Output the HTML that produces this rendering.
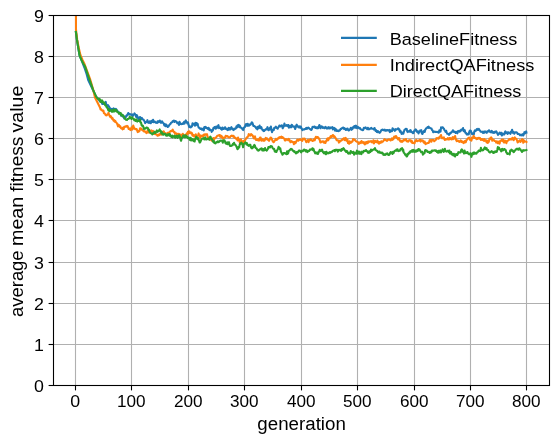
<!DOCTYPE html>
<html><head><meta charset="utf-8"><title>chart</title>
<style>html,body{margin:0;padding:0;background:#fff;overflow:hidden;}svg{display:block;position:absolute;left:0;top:0;}</style>
</head><body>
<svg width="559" height="443" viewBox="0 0 559 443">
<rect x="0" y="0" width="559" height="443" fill="#ffffff"/>
<defs><clipPath id="ax"><rect x="53.50" y="15.50" width="496.00" height="370.00"/></clipPath></defs>
<g stroke="#b0b0b0" stroke-width="1.1" fill="none">
<path d="M75.50,15.50 V385.50"/>
<path d="M131.50,15.50 V385.50"/>
<path d="M188.50,15.50 V385.50"/>
<path d="M244.50,15.50 V385.50"/>
<path d="M301.50,15.50 V385.50"/>
<path d="M357.50,15.50 V385.50"/>
<path d="M414.50,15.50 V385.50"/>
<path d="M470.50,15.50 V385.50"/>
<path d="M526.50,15.50 V385.50"/>
<path d="M53.50,385.50 H549.50"/>
<path d="M53.50,344.50 H549.50"/>
<path d="M53.50,303.50 H549.50"/>
<path d="M53.50,262.50 H549.50"/>
<path d="M53.50,220.50 H549.50"/>
<path d="M53.50,179.50 H549.50"/>
<path d="M53.50,138.50 H549.50"/>
<path d="M53.50,97.50 H549.50"/>
<path d="M53.50,56.50 H549.50"/>
<path d="M53.50,15.50 H549.50"/>
</g>
<g clip-path="url(#ax)" fill="none" stroke-width="2.1" stroke-linejoin="round" stroke-linecap="square">
<path d="M75.90,32.00 L77.00,40.00 L78.30,48.00 L79.60,55.50 L81.60,60.30 L84.40,67.50 L86.60,74.00 L88.20,80.00 L90.60,85.00 L93.00,90.00 L95.90,96.50 L98.40,99.30 L98.96,99.73 L99.53,100.92 L100.09,100.99 L100.65,101.54 L101.22,101.68 L101.78,102.81 L102.35,103.93 L102.91,103.42 L103.47,103.88 L104.04,103.29 L104.60,103.40 L105.16,103.24 L105.73,101.89 L106.29,104.58 L106.85,105.12 L107.42,105.91 L107.98,105.07 L108.54,105.83 L109.11,107.02 L109.67,107.68 L110.24,108.61 L110.80,108.69 L111.36,109.46 L111.93,108.91 L112.49,109.46 L113.05,109.36 L113.62,108.41 L114.18,110.03 L114.74,108.99 L115.31,109.73 L115.87,108.96 L116.44,109.47 L117.00,110.37 L117.56,111.14 L118.13,112.30 L118.69,112.58 L119.25,112.62 L119.82,112.80 L120.38,113.69 L120.94,115.56 L121.51,114.57 L122.07,115.83 L122.63,116.44 L123.20,115.48 L123.76,117.11 L124.33,118.53 L124.89,116.51 L125.45,117.42 L126.02,116.73 L126.58,115.34 L127.14,115.47 L127.71,114.30 L128.27,112.98 L128.83,114.43 L129.40,114.04 L129.96,113.98 L130.53,114.71 L131.09,114.46 L131.65,114.84 L132.22,114.34 L132.78,116.04 L133.34,114.73 L133.91,114.47 L134.47,113.47 L135.03,114.21 L135.60,115.10 L136.16,117.03 L136.72,115.10 L137.29,116.10 L137.85,117.83 L138.42,119.08 L138.98,118.78 L139.54,117.27 L140.11,117.15 L140.67,119.65 L141.23,118.51 L141.80,117.87 L142.36,119.08 L142.92,119.51 L143.49,119.63 L144.05,120.53 L144.62,121.51 L145.18,123.08 L145.74,122.21 L146.31,122.00 L146.87,121.89 L147.43,120.16 L148.00,122.56 L148.56,122.75 L149.12,122.86 L149.69,121.41 L150.25,122.60 L150.81,123.24 L151.38,120.78 L151.94,121.53 L152.51,121.96 L153.07,119.74 L153.63,122.21 L154.20,121.73 L154.76,121.52 L155.32,122.19 L155.89,122.76 L156.45,122.52 L157.01,123.01 L157.58,121.39 L158.14,121.30 L158.71,122.12 L159.27,121.08 L159.83,120.55 L160.40,122.19 L160.96,122.85 L161.52,121.69 L162.09,121.27 L162.65,122.55 L163.21,123.10 L163.78,123.55 L164.34,125.39 L164.90,124.13 L165.47,126.14 L166.03,124.47 L166.60,125.06 L167.16,126.35 L167.72,126.95 L168.29,126.84 L168.85,125.75 L169.41,124.90 L169.98,124.21 L170.54,123.83 L171.10,122.65 L171.67,122.41 L172.23,122.05 L172.80,121.04 L173.36,121.03 L173.92,120.52 L174.49,122.03 L175.05,121.19 L175.61,121.06 L176.18,121.53 L176.74,122.16 L177.30,123.21 L177.87,122.61 L178.43,123.50 L178.99,124.93 L179.56,121.88 L180.12,122.96 L180.69,123.98 L181.25,124.10 L181.81,123.98 L182.38,123.48 L182.94,123.95 L183.50,123.11 L184.07,121.94 L184.63,123.59 L185.19,121.47 L185.76,120.38 L186.32,121.64 L186.89,122.46 L187.45,123.51 L188.01,122.36 L188.58,124.88 L189.14,126.84 L189.70,126.04 L190.27,127.25 L190.83,127.34 L191.39,126.60 L191.96,126.40 L192.52,123.33 L193.08,123.67 L193.65,123.83 L194.21,124.91 L194.78,125.61 L195.34,122.84 L195.90,125.31 L196.47,123.05 L197.03,124.37 L197.59,123.73 L198.16,125.97 L198.72,127.72 L199.28,127.71 L199.85,128.40 L200.41,128.95 L200.98,128.55 L201.54,128.46 L202.10,129.77 L202.67,129.50 L203.23,128.56 L203.79,130.41 L204.36,127.06 L204.92,128.18 L205.48,126.86 L206.05,127.26 L206.61,128.12 L207.17,128.19 L207.74,128.93 L208.30,127.73 L208.87,128.19 L209.43,130.22 L209.99,129.48 L210.56,129.87 L211.12,129.98 L211.68,131.88 L212.25,130.77 L212.81,130.58 L213.37,128.05 L213.94,128.14 L214.50,127.03 L215.07,128.22 L215.63,128.58 L216.19,126.48 L216.76,128.06 L217.32,127.39 L217.88,126.26 L218.45,125.09 L219.01,128.07 L219.57,127.38 L220.14,127.44 L220.70,128.63 L221.26,129.08 L221.83,129.70 L222.39,127.58 L222.96,128.96 L223.52,128.98 L224.08,128.72 L224.65,127.49 L225.21,127.36 L225.77,128.98 L226.34,128.59 L226.90,128.89 L227.46,130.14 L228.03,129.14 L228.59,127.89 L229.16,129.59 L229.72,128.19 L230.28,129.45 L230.85,128.34 L231.41,127.15 L231.97,128.17 L232.54,129.36 L233.10,129.36 L233.66,130.02 L234.23,128.53 L234.79,128.90 L235.35,128.78 L235.92,128.42 L236.48,126.36 L237.05,127.42 L237.61,125.24 L238.17,125.73 L238.74,124.96 L239.30,127.12 L239.86,125.80 L240.43,127.23 L240.99,127.61 L241.55,128.24 L242.12,128.33 L242.68,129.47 L243.25,130.07 L243.81,127.90 L244.37,127.41 L244.94,126.91 L245.50,125.16 L246.06,124.06 L246.63,124.58 L247.19,125.81 L247.75,123.77 L248.32,124.55 L248.88,125.71 L249.44,125.22 L250.01,124.30 L250.57,124.58 L251.14,123.77 L251.70,122.43 L252.26,122.54 L252.83,124.04 L253.39,126.01 L253.95,125.70 L254.52,126.24 L255.08,126.90 L255.64,126.90 L256.21,128.52 L256.77,128.29 L257.34,129.34 L257.90,126.73 L258.46,128.18 L259.03,126.89 L259.59,125.54 L260.15,128.13 L260.72,127.98 L261.28,127.11 L261.84,128.56 L262.41,129.86 L262.97,129.73 L263.53,131.08 L264.10,130.96 L264.66,130.34 L265.23,129.52 L265.79,129.71 L266.35,128.72 L266.92,128.82 L267.48,127.18 L268.04,129.68 L268.61,130.25 L269.17,128.89 L269.73,128.17 L270.30,129.38 L270.86,126.53 L271.43,129.44 L271.99,132.14 L272.55,129.92 L273.12,130.28 L273.68,130.32 L274.24,127.96 L274.81,127.61 L275.37,127.77 L275.93,126.71 L276.50,127.61 L277.06,128.19 L277.62,128.69 L278.19,127.49 L278.75,126.80 L279.32,125.62 L279.88,125.55 L280.44,126.45 L281.01,125.97 L281.57,125.36 L282.13,125.48 L282.70,128.22 L283.26,127.06 L283.82,126.35 L284.39,123.59 L284.95,125.67 L285.52,125.23 L286.08,125.79 L286.64,125.06 L287.21,125.26 L287.77,126.26 L288.33,124.98 L288.90,127.64 L289.46,126.89 L290.02,125.90 L290.59,127.20 L291.15,127.35 L291.71,124.72 L292.28,125.42 L292.84,126.47 L293.41,126.71 L293.97,126.60 L294.53,126.50 L295.10,128.99 L295.66,127.62 L296.22,125.38 L296.79,124.70 L297.35,126.43 L297.91,126.14 L298.48,127.31 L299.04,127.09 L299.61,126.37 L300.17,127.76 L300.73,126.47 L301.30,128.05 L301.86,129.09 L302.42,130.04 L302.99,129.34 L303.55,129.44 L304.11,129.53 L304.68,129.12 L305.24,128.96 L305.80,128.36 L306.37,127.96 L306.93,128.79 L307.50,128.24 L308.06,127.58 L308.62,127.73 L309.19,128.48 L309.75,128.80 L310.31,129.41 L310.88,129.70 L311.44,129.89 L312.00,128.69 L312.57,126.88 L313.13,127.17 L313.70,126.67 L314.26,126.59 L314.82,126.83 L315.39,128.00 L315.95,127.64 L316.51,127.25 L317.08,128.38 L317.64,127.31 L318.20,128.22 L318.77,126.52 L319.33,125.03 L319.89,126.20 L320.46,128.27 L321.02,126.91 L321.59,126.28 L322.15,126.84 L322.71,127.87 L323.28,127.74 L323.84,127.39 L324.40,128.26 L324.97,127.57 L325.53,126.92 L326.09,127.51 L326.66,128.53 L327.22,128.25 L327.79,128.51 L328.35,127.16 L328.91,128.08 L329.48,128.45 L330.04,127.39 L330.60,128.12 L331.17,127.47 L331.73,127.72 L332.29,127.12 L332.86,129.42 L333.42,128.68 L333.98,127.82 L334.55,128.31 L335.11,130.67 L335.68,128.95 L336.24,130.35 L336.80,130.92 L337.37,130.67 L337.93,130.28 L338.49,131.06 L339.06,130.64 L339.62,130.67 L340.18,129.87 L340.75,128.75 L341.31,128.84 L341.88,128.38 L342.44,127.91 L343.00,127.58 L343.57,127.77 L344.13,129.00 L344.69,128.24 L345.26,129.10 L345.82,130.00 L346.38,128.90 L346.95,129.67 L347.51,128.49 L348.07,129.49 L348.64,130.43 L349.20,130.19 L349.77,129.40 L350.33,128.94 L350.89,127.72 L351.46,129.83 L352.02,128.55 L352.58,128.79 L353.15,127.11 L353.71,127.44 L354.27,126.02 L354.84,127.78 L355.40,127.70 L355.97,125.64 L356.53,127.37 L357.09,128.23 L357.66,126.78 L358.22,127.08 L358.78,127.99 L359.35,128.43 L359.91,127.96 L360.47,129.15 L361.04,129.42 L361.60,129.82 L362.16,129.84 L362.73,130.27 L363.29,129.83 L363.86,127.80 L364.42,128.23 L364.98,127.63 L365.55,127.44 L366.11,128.30 L366.67,128.58 L367.24,129.16 L367.80,127.82 L368.36,128.30 L368.93,129.33 L369.49,128.98 L370.06,128.68 L370.62,128.65 L371.18,127.91 L371.75,128.79 L372.31,128.75 L372.87,128.81 L373.44,128.76 L374.00,129.52 L374.56,128.01 L375.13,129.74 L375.69,130.93 L376.25,130.21 L376.82,131.91 L377.38,132.12 L377.95,131.13 L378.51,132.13 L379.07,132.25 L379.64,132.80 L380.20,132.34 L380.76,131.27 L381.33,130.08 L381.89,130.02 L382.45,129.50 L383.02,130.21 L383.58,130.22 L384.15,129.81 L384.71,129.68 L385.27,130.76 L385.84,130.67 L386.40,130.10 L386.96,130.56 L387.53,129.98 L388.09,130.14 L388.65,130.49 L389.22,129.91 L389.78,132.09 L390.34,130.23 L390.91,131.42 L391.47,130.75 L392.04,131.19 L392.60,128.27 L393.16,129.18 L393.73,129.63 L394.29,129.72 L394.85,130.86 L395.42,129.19 L395.98,129.75 L396.54,129.21 L397.11,129.19 L397.67,128.70 L398.24,128.28 L398.80,129.62 L399.36,129.26 L399.93,131.79 L400.49,130.97 L401.05,132.32 L401.62,134.02 L402.18,132.55 L402.74,133.03 L403.31,133.67 L403.87,131.74 L404.43,130.03 L405.00,129.74 L405.56,128.90 L406.13,129.26 L406.69,128.85 L407.25,131.44 L407.82,132.07 L408.38,131.27 L408.94,131.32 L409.51,130.66 L410.07,131.91 L410.63,130.19 L411.20,131.90 L411.76,131.81 L412.33,132.44 L412.89,133.28 L413.45,133.07 L414.02,131.39 L414.58,130.22 L415.14,130.67 L415.71,129.37 L416.27,130.20 L416.83,131.68 L417.40,131.95 L417.96,131.27 L418.52,133.46 L419.09,131.48 L419.65,131.79 L420.22,130.45 L420.78,130.76 L421.34,130.18 L421.91,133.54 L422.47,133.92 L423.03,132.68 L423.60,131.95 L424.16,130.85 L424.72,131.93 L425.29,129.68 L425.85,128.96 L426.42,127.94 L426.98,127.98 L427.54,127.16 L428.11,127.89 L428.67,126.68 L429.23,127.61 L429.80,127.79 L430.36,128.18 L430.92,128.38 L431.49,128.60 L432.05,130.12 L432.61,130.35 L433.18,132.23 L433.74,131.98 L434.31,131.66 L434.87,131.74 L435.43,131.91 L436.00,131.75 L436.56,131.91 L437.12,132.11 L437.69,131.99 L438.25,131.75 L438.81,132.62 L439.38,130.23 L439.94,130.17 L440.51,131.56 L441.07,127.38 L441.63,127.69 L442.20,127.52 L442.76,127.26 L443.32,128.31 L443.89,128.68 L444.45,129.99 L445.01,130.61 L445.58,131.96 L446.14,130.76 L446.70,132.31 L447.27,133.78 L447.83,133.80 L448.40,134.12 L448.96,134.81 L449.52,133.29 L450.09,133.69 L450.65,133.21 L451.21,132.32 L451.78,132.15 L452.34,131.49 L452.90,130.31 L453.47,131.43 L454.03,132.02 L454.60,131.51 L455.16,132.06 L455.72,132.93 L456.29,131.94 L456.85,132.74 L457.41,133.31 L457.98,131.16 L458.54,131.34 L459.10,130.77 L459.67,131.76 L460.23,130.65 L460.79,130.88 L461.36,129.49 L461.92,129.80 L462.49,129.61 L463.05,128.09 L463.61,131.11 L464.18,131.40 L464.74,130.11 L465.30,132.67 L465.87,132.73 L466.43,133.95 L466.99,134.67 L467.56,133.89 L468.12,134.00 L468.69,134.42 L469.25,132.01 L469.81,130.82 L470.38,130.57 L470.94,131.12 L471.50,132.73 L472.07,134.18 L472.63,133.68 L473.19,133.98 L473.76,134.51 L474.32,131.48 L474.88,130.39 L475.45,130.91 L476.01,130.70 L476.58,129.30 L477.14,128.95 L477.70,129.82 L478.27,129.64 L478.83,128.93 L479.39,130.21 L479.96,130.41 L480.52,131.62 L481.08,131.64 L481.65,131.84 L482.21,131.63 L482.78,132.69 L483.34,132.94 L483.90,131.62 L484.47,132.53 L485.03,131.33 L485.59,131.87 L486.16,132.29 L486.72,132.77 L487.28,131.26 L487.85,131.40 L488.41,131.51 L488.97,130.24 L489.54,131.56 L490.10,131.24 L490.67,132.22 L491.23,131.28 L491.79,130.84 L492.36,132.55 L492.92,132.72 L493.48,131.99 L494.05,132.94 L494.61,131.94 L495.17,131.56 L495.74,132.30 L496.30,131.33 L496.87,132.56 L497.43,133.61 L497.99,134.83 L498.56,133.94 L499.12,133.76 L499.68,132.50 L500.25,132.91 L500.81,134.26 L501.37,132.82 L501.94,135.44 L502.50,133.51 L503.06,134.33 L503.63,134.25 L504.19,134.52 L504.76,132.45 L505.32,131.43 L505.88,133.09 L506.45,132.86 L507.01,132.37 L507.57,133.98 L508.14,132.27 L508.70,132.41 L509.26,133.03 L509.83,132.71 L510.39,133.79 L510.96,131.62 L511.52,132.14 L512.08,129.71 L512.65,132.78 L513.21,131.77 L513.77,132.62 L514.34,133.70 L514.90,132.32 L515.46,132.36 L516.03,132.42 L516.59,132.40 L517.15,132.80 L517.72,134.01 L518.28,133.83 L518.85,134.11 L519.41,134.19 L519.97,135.27 L520.54,135.07 L521.10,134.69 L521.66,135.40 L522.23,134.88 L522.79,134.23 L523.35,135.46 L523.92,133.98 L524.48,132.17 L525.05,133.41 L525.61,132.86 L526.17,131.43 L526.40,132.60" stroke="#1f77b4"/>
<path d="M75.95,5.00 L76.00,30.00 L77.20,40.00 L78.80,48.00 L80.40,55.00 L82.50,60.00 L84.50,64.00 L86.20,68.50 L90.00,78.80 L93.30,90.00 L95.00,97.50 L97.50,102.50 L100.00,107.50 L100.56,109.40 L101.13,109.13 L101.69,110.24 L102.25,110.41 L102.82,110.84 L103.38,110.54 L103.95,113.23 L104.51,113.33 L105.07,113.89 L105.64,115.17 L106.20,114.96 L106.76,115.30 L107.33,114.41 L107.89,114.55 L108.45,112.86 L109.02,114.31 L109.58,115.71 L110.14,116.78 L110.71,116.09 L111.27,116.85 L111.84,118.71 L112.40,117.85 L112.96,119.28 L113.53,120.63 L114.09,120.04 L114.65,121.57 L115.22,120.75 L115.78,122.08 L116.34,122.51 L116.91,123.30 L117.47,124.71 L118.04,126.30 L118.60,124.67 L119.16,125.38 L119.73,126.84 L120.29,126.26 L120.85,127.89 L121.42,128.40 L121.98,128.22 L122.54,129.29 L123.11,127.68 L123.67,128.95 L124.23,126.75 L124.80,126.92 L125.36,126.56 L125.93,126.21 L126.49,126.68 L127.05,125.94 L127.62,126.23 L128.18,127.59 L128.74,129.02 L129.31,128.49 L129.87,129.41 L130.43,130.06 L131.00,128.88 L131.56,127.26 L132.13,129.63 L132.69,128.97 L133.25,125.45 L133.82,127.37 L134.38,128.16 L134.94,129.03 L135.51,129.26 L136.07,129.01 L136.63,129.04 L137.20,130.63 L137.76,132.05 L138.32,131.17 L138.89,131.62 L139.45,131.07 L140.02,128.33 L140.58,128.28 L141.14,128.42 L141.71,129.79 L142.27,129.62 L142.83,130.18 L143.40,131.04 L143.96,131.41 L144.52,131.06 L145.09,131.67 L145.65,132.34 L146.22,132.77 L146.78,133.07 L147.34,131.07 L147.91,131.20 L148.47,129.52 L149.03,132.68 L149.60,130.58 L150.16,131.00 L150.72,131.63 L151.29,130.43 L151.85,132.00 L152.41,131.85 L152.98,130.82 L153.54,132.76 L154.11,133.78 L154.67,131.83 L155.23,134.18 L155.80,134.06 L156.36,134.55 L156.92,134.82 L157.49,135.76 L158.05,134.91 L158.61,135.49 L159.18,134.23 L159.74,134.79 L160.31,133.34 L160.87,133.56 L161.43,134.60 L162.00,133.31 L162.56,132.52 L163.12,131.44 L163.69,131.37 L164.25,132.39 L164.81,133.38 L165.38,133.42 L165.94,133.92 L166.50,133.69 L167.07,134.52 L167.63,132.99 L168.20,132.65 L168.76,133.51 L169.32,132.68 L169.89,131.95 L170.45,131.23 L171.01,130.96 L171.58,131.12 L172.14,130.41 L172.70,129.57 L173.27,131.47 L173.83,131.95 L174.40,131.73 L174.96,133.73 L175.52,133.19 L176.09,133.36 L176.65,134.42 L177.21,135.02 L177.78,133.72 L178.34,134.77 L178.90,133.95 L179.47,136.51 L180.03,134.57 L180.59,136.00 L181.16,134.79 L181.72,136.05 L182.29,137.27 L182.85,133.75 L183.41,135.24 L183.98,135.85 L184.54,135.32 L185.10,134.79 L185.67,136.82 L186.23,135.17 L186.79,133.26 L187.36,134.44 L187.92,131.82 L188.49,133.28 L189.05,131.30 L189.61,131.67 L190.18,133.21 L190.74,133.05 L191.30,132.62 L191.87,133.09 L192.43,135.60 L192.99,135.60 L193.56,134.77 L194.12,136.36 L194.68,136.43 L195.25,136.73 L195.81,134.33 L196.38,135.58 L196.94,136.26 L197.50,135.92 L198.07,135.81 L198.63,133.42 L199.19,135.61 L199.76,136.07 L200.32,137.83 L200.88,135.42 L201.45,135.98 L202.01,135.99 L202.58,136.35 L203.14,135.08 L203.70,136.01 L204.27,134.38 L204.83,135.01 L205.39,134.26 L205.96,134.61 L206.52,134.20 L207.08,134.35 L207.65,137.19 L208.21,137.42 L208.77,137.60 L209.34,138.65 L209.90,139.62 L210.47,138.53 L211.03,139.56 L211.59,140.43 L212.16,140.80 L212.72,139.88 L213.28,138.06 L213.85,140.07 L214.41,138.89 L214.97,138.16 L215.54,137.45 L216.10,137.50 L216.67,136.65 L217.23,135.86 L217.79,135.74 L218.36,135.52 L218.92,135.29 L219.48,135.10 L220.05,136.66 L220.61,135.42 L221.17,137.11 L221.74,136.08 L222.30,137.44 L222.86,138.59 L223.43,138.10 L223.99,137.53 L224.56,137.77 L225.12,137.50 L225.68,135.75 L226.25,136.24 L226.81,136.48 L227.37,136.06 L227.94,136.61 L228.50,137.23 L229.06,137.39 L229.63,137.47 L230.19,136.96 L230.76,136.03 L231.32,135.97 L231.88,135.51 L232.45,135.91 L233.01,136.46 L233.57,135.76 L234.14,137.25 L234.70,137.94 L235.26,137.53 L235.83,138.38 L236.39,138.92 L236.95,138.55 L237.52,140.38 L238.08,137.63 L238.65,140.19 L239.21,139.73 L239.77,142.60 L240.34,143.58 L240.90,139.39 L241.46,141.05 L242.03,141.23 L242.59,141.25 L243.15,142.52 L243.72,140.73 L244.28,142.13 L244.85,140.85 L245.41,139.67 L245.97,138.29 L246.54,138.44 L247.10,137.04 L247.66,137.00 L248.23,135.89 L248.79,134.02 L249.35,135.44 L249.92,135.38 L250.48,135.56 L251.04,134.10 L251.61,134.50 L252.17,135.22 L252.74,135.61 L253.30,137.17 L253.86,138.44 L254.43,136.71 L254.99,136.39 L255.55,138.91 L256.12,139.86 L256.68,139.84 L257.24,140.11 L257.81,139.25 L258.37,139.40 L258.94,140.63 L259.50,138.72 L260.06,137.48 L260.63,137.53 L261.19,140.56 L261.75,140.70 L262.32,139.30 L262.88,139.83 L263.44,140.68 L264.01,139.49 L264.57,140.58 L265.13,139.08 L265.70,137.87 L266.26,139.21 L266.83,138.27 L267.39,139.41 L267.95,139.78 L268.52,140.10 L269.08,140.80 L269.64,139.57 L270.21,138.24 L270.77,137.50 L271.33,138.05 L271.90,139.29 L272.46,140.71 L273.03,141.62 L273.59,142.23 L274.15,141.55 L274.72,140.51 L275.28,140.21 L275.84,138.80 L276.41,139.87 L276.97,139.79 L277.53,139.26 L278.10,138.21 L278.66,137.61 L279.22,138.08 L279.79,137.10 L280.35,137.35 L280.92,136.94 L281.48,136.64 L282.04,138.02 L282.61,137.18 L283.17,137.90 L283.73,138.13 L284.30,138.70 L284.86,140.48 L285.42,140.52 L285.99,139.11 L286.55,139.41 L287.12,139.76 L287.68,139.55 L288.24,140.28 L288.81,138.87 L289.37,139.78 L289.93,141.04 L290.50,142.22 L291.06,141.60 L291.62,141.22 L292.19,141.95 L292.75,142.06 L293.31,142.26 L293.88,144.25 L294.44,142.09 L295.01,142.01 L295.57,143.05 L296.13,141.76 L296.70,140.71 L297.26,139.65 L297.82,140.07 L298.39,140.64 L298.95,139.54 L299.51,139.81 L300.08,139.23 L300.64,139.83 L301.21,139.59 L301.77,140.35 L302.33,140.85 L302.90,138.51 L303.46,139.24 L304.02,139.18 L304.59,138.56 L305.15,139.32 L305.71,140.70 L306.28,142.18 L306.84,141.71 L307.40,141.36 L307.97,139.74 L308.53,142.13 L309.10,140.53 L309.66,140.24 L310.22,139.28 L310.79,140.19 L311.35,139.52 L311.91,140.50 L312.48,140.91 L313.04,140.69 L313.60,140.51 L314.17,139.09 L314.73,140.24 L315.30,138.11 L315.86,136.80 L316.42,137.89 L316.99,137.32 L317.55,137.00 L318.11,137.35 L318.68,138.64 L319.24,138.50 L319.80,140.26 L320.37,142.40 L320.93,142.36 L321.49,141.60 L322.06,141.67 L322.62,141.35 L323.19,141.27 L323.75,142.57 L324.31,142.69 L324.88,141.70 L325.44,143.02 L326.00,141.11 L326.57,141.00 L327.13,138.79 L327.69,138.37 L328.26,140.25 L328.82,138.19 L329.39,138.48 L329.95,137.78 L330.51,136.35 L331.08,136.04 L331.64,137.02 L332.20,135.84 L332.77,134.98 L333.33,135.34 L333.89,137.03 L334.46,136.37 L335.02,137.06 L335.58,137.96 L336.15,139.11 L336.71,140.17 L337.28,140.18 L337.84,140.22 L338.40,140.95 L338.97,142.59 L339.53,142.09 L340.09,140.57 L340.66,140.92 L341.22,140.58 L341.78,140.18 L342.35,139.57 L342.91,138.76 L343.48,139.16 L344.04,138.21 L344.60,140.09 L345.17,139.39 L345.73,137.93 L346.29,140.58 L346.86,140.90 L347.42,139.50 L347.98,143.01 L348.55,142.60 L349.11,143.70 L349.67,141.39 L350.24,142.87 L350.80,142.82 L351.37,142.09 L351.93,141.50 L352.49,141.60 L353.06,139.12 L353.62,139.27 L354.18,139.29 L354.75,140.05 L355.31,140.15 L355.87,141.12 L356.44,141.50 L357.00,141.77 L357.57,141.70 L358.13,142.33 L358.69,143.83 L359.26,143.49 L359.82,142.65 L360.38,141.99 L360.95,143.05 L361.51,141.09 L362.07,141.92 L362.64,142.74 L363.20,142.12 L363.76,143.38 L364.33,142.36 L364.89,144.40 L365.46,143.73 L366.02,142.05 L366.58,143.39 L367.15,141.88 L367.71,143.16 L368.27,141.37 L368.84,141.62 L369.40,141.82 L369.96,141.23 L370.53,141.54 L371.09,141.05 L371.66,142.20 L372.22,141.94 L372.78,142.33 L373.35,140.35 L373.91,143.43 L374.47,142.35 L375.04,140.76 L375.60,141.94 L376.16,141.99 L376.73,142.21 L377.29,140.59 L377.85,142.76 L378.42,141.68 L378.98,143.79 L379.55,142.08 L380.11,142.90 L380.67,142.32 L381.24,141.23 L381.80,142.32 L382.36,141.62 L382.93,141.53 L383.49,140.80 L384.05,139.84 L384.62,139.13 L385.18,140.00 L385.75,140.09 L386.31,140.08 L386.87,140.85 L387.44,140.38 L388.00,139.65 L388.56,139.70 L389.13,139.33 L389.69,139.68 L390.25,140.17 L390.82,140.41 L391.38,139.27 L391.94,138.23 L392.51,139.86 L393.07,138.31 L393.64,138.81 L394.20,136.52 L394.76,137.28 L395.33,137.32 L395.89,135.99 L396.45,136.63 L397.02,137.99 L397.58,138.68 L398.14,139.50 L398.71,138.08 L399.27,138.33 L399.84,140.47 L400.40,141.49 L400.96,141.63 L401.53,140.74 L402.09,141.85 L402.65,141.40 L403.22,140.77 L403.78,139.53 L404.34,139.67 L404.91,140.30 L405.47,139.64 L406.03,139.02 L406.60,140.99 L407.16,141.45 L407.73,141.23 L408.29,141.67 L408.85,140.35 L409.42,140.52 L409.98,140.14 L410.54,140.59 L411.11,141.63 L411.67,140.69 L412.23,142.88 L412.80,142.94 L413.36,142.84 L413.93,142.94 L414.49,143.37 L415.05,141.45 L415.62,141.05 L416.18,139.88 L416.74,140.58 L417.31,141.18 L417.87,140.68 L418.43,140.70 L419.00,140.34 L419.56,140.73 L420.12,139.64 L420.69,141.60 L421.25,140.62 L421.82,140.20 L422.38,140.58 L422.94,140.63 L423.51,142.20 L424.07,142.82 L424.63,141.48 L425.20,143.67 L425.76,144.11 L426.32,143.48 L426.89,143.28 L427.45,143.31 L428.02,142.84 L428.58,143.03 L429.14,141.96 L429.71,140.16 L430.27,141.44 L430.83,140.01 L431.40,141.73 L431.96,140.03 L432.52,140.31 L433.09,140.08 L433.65,140.10 L434.21,141.25 L434.78,140.68 L435.34,140.25 L435.91,139.80 L436.47,138.16 L437.03,138.66 L437.60,138.36 L438.16,137.77 L438.72,138.62 L439.29,137.27 L439.85,136.87 L440.41,136.19 L440.98,135.00 L441.54,137.05 L442.11,138.30 L442.67,138.13 L443.23,137.96 L443.80,137.37 L444.36,139.32 L444.92,139.89 L445.49,138.99 L446.05,139.25 L446.61,139.45 L447.18,139.12 L447.74,138.17 L448.30,139.51 L448.87,139.53 L449.43,138.02 L450.00,139.09 L450.56,138.20 L451.12,139.05 L451.69,139.43 L452.25,138.06 L452.81,137.02 L453.38,139.11 L453.94,137.99 L454.50,138.38 L455.07,136.01 L455.63,138.66 L456.20,140.27 L456.76,141.08 L457.32,140.27 L457.89,140.98 L458.45,140.77 L459.01,141.74 L459.58,141.88 L460.14,141.28 L460.70,140.30 L461.27,141.98 L461.83,141.18 L462.39,142.11 L462.96,141.94 L463.52,143.07 L464.09,142.62 L464.65,141.15 L465.21,141.48 L465.78,142.27 L466.34,140.22 L466.90,139.82 L467.47,139.26 L468.03,138.18 L468.59,137.99 L469.16,137.61 L469.72,138.66 L470.29,140.00 L470.85,139.54 L471.41,140.60 L471.98,137.48 L472.54,138.41 L473.10,137.57 L473.67,135.93 L474.23,136.92 L474.79,138.00 L475.36,137.85 L475.92,138.45 L476.48,139.12 L477.05,138.05 L477.61,138.90 L478.18,137.96 L478.74,137.92 L479.30,138.62 L479.87,137.94 L480.43,138.80 L480.99,140.00 L481.56,139.03 L482.12,139.11 L482.68,139.99 L483.25,139.40 L483.81,140.72 L484.38,139.18 L484.94,140.84 L485.50,140.23 L486.07,140.28 L486.63,142.47 L487.19,140.78 L487.76,143.00 L488.32,142.15 L488.88,141.62 L489.45,138.67 L490.01,139.18 L490.57,138.24 L491.14,137.37 L491.70,138.09 L492.27,140.75 L492.83,139.76 L493.39,139.86 L493.96,139.92 L494.52,140.95 L495.08,141.08 L495.65,141.18 L496.21,142.56 L496.77,141.30 L497.34,142.19 L497.90,143.23 L498.47,141.67 L499.03,143.26 L499.59,143.58 L500.16,140.91 L500.72,140.82 L501.28,140.58 L501.85,139.69 L502.41,141.13 L502.97,139.50 L503.54,141.56 L504.10,142.56 L504.66,140.55 L505.23,141.81 L505.79,140.90 L506.36,143.12 L506.92,141.28 L507.48,140.94 L508.05,140.49 L508.61,140.17 L509.17,139.14 L509.74,139.41 L510.30,138.99 L510.86,139.49 L511.43,138.52 L511.99,139.45 L512.56,137.74 L513.12,138.60 L513.68,140.19 L514.25,138.59 L514.81,137.37 L515.37,138.80 L515.94,138.71 L516.50,139.03 L517.06,140.55 L517.63,142.44 L518.19,141.97 L518.75,141.39 L519.32,140.56 L519.88,140.24 L520.45,141.96 L521.01,141.08 L521.57,140.12 L522.14,139.19 L522.70,139.68 L523.26,142.71 L523.83,140.18 L524.39,141.17 L524.95,141.58 L525.52,141.49 L526.08,141.59 L526.40,141.90" stroke="#ff7f0e"/>
<path d="M75.90,32.00 L77.00,40.00 L78.30,48.00 L79.60,55.50 L81.50,60.00 L83.50,64.00 L85.00,66.30 L88.80,77.50 L93.20,90.10 L96.30,96.90 L98.80,99.40 L99.36,98.80 L99.93,99.47 L100.49,101.95 L101.05,100.55 L101.62,102.09 L102.18,100.45 L102.75,101.79 L103.31,102.46 L103.87,103.39 L104.44,102.68 L105.00,104.88 L105.56,105.63 L106.13,105.70 L106.69,107.52 L107.25,107.53 L107.82,108.74 L108.38,110.45 L108.94,109.25 L109.51,111.15 L110.07,110.43 L110.64,110.03 L111.20,110.75 L111.76,111.59 L112.33,110.58 L112.89,111.69 L113.45,109.72 L114.02,109.46 L114.58,111.46 L115.14,110.45 L115.71,110.72 L116.27,109.87 L116.84,111.59 L117.40,111.66 L117.96,112.44 L118.53,112.46 L119.09,113.84 L119.65,112.91 L120.22,113.12 L120.78,113.17 L121.34,115.59 L121.91,114.61 L122.47,114.82 L123.03,115.58 L123.60,116.72 L124.16,116.86 L124.73,118.35 L125.29,118.86 L125.85,119.68 L126.42,119.86 L126.98,120.05 L127.54,119.11 L128.11,118.98 L128.67,118.52 L129.23,118.49 L129.80,116.64 L130.36,117.92 L130.93,117.77 L131.49,118.99 L132.05,117.27 L132.62,117.97 L133.18,118.62 L133.74,118.93 L134.31,120.26 L134.87,119.52 L135.43,120.91 L136.00,119.42 L136.56,119.34 L137.12,121.61 L137.69,121.03 L138.25,121.07 L138.82,120.79 L139.38,121.06 L139.94,119.79 L140.51,122.42 L141.07,122.71 L141.63,125.24 L142.20,125.97 L142.76,125.58 L143.32,126.66 L143.89,129.03 L144.45,128.65 L145.02,128.30 L145.58,128.56 L146.14,127.85 L146.71,127.54 L147.27,127.80 L147.83,128.03 L148.40,129.82 L148.96,129.48 L149.52,131.63 L150.09,132.34 L150.65,133.07 L151.21,133.38 L151.78,133.48 L152.34,134.28 L152.91,133.89 L153.47,132.88 L154.03,132.82 L154.60,131.82 L155.16,133.13 L155.72,132.30 L156.29,131.57 L156.85,130.46 L157.41,131.86 L157.98,131.40 L158.54,130.68 L159.11,130.43 L159.67,129.37 L160.23,131.27 L160.80,130.89 L161.36,133.58 L161.92,132.32 L162.49,132.93 L163.05,134.82 L163.61,134.00 L164.18,134.13 L164.74,133.83 L165.30,133.76 L165.87,135.44 L166.43,135.18 L167.00,135.82 L167.56,134.38 L168.12,134.77 L168.69,134.19 L169.25,135.68 L169.81,134.02 L170.38,135.74 L170.94,136.45 L171.50,137.00 L172.07,135.56 L172.63,137.40 L173.20,136.36 L173.76,136.24 L174.32,135.73 L174.89,137.49 L175.45,137.77 L176.01,136.00 L176.58,135.78 L177.14,135.97 L177.70,137.93 L178.27,136.62 L178.83,135.34 L179.39,135.31 L179.96,137.06 L180.52,139.36 L181.09,140.78 L181.65,138.57 L182.21,137.60 L182.78,137.09 L183.34,135.41 L183.90,137.00 L184.47,135.61 L185.03,137.34 L185.59,135.37 L186.16,135.80 L186.72,137.08 L187.29,136.63 L187.85,138.23 L188.41,138.09 L188.98,137.64 L189.54,139.43 L190.10,140.03 L190.67,137.78 L191.23,140.39 L191.79,139.21 L192.36,140.12 L192.92,139.07 L193.48,140.85 L194.05,141.27 L194.61,141.51 L195.18,138.77 L195.74,138.37 L196.30,136.68 L196.87,138.38 L197.43,139.17 L197.99,138.00 L198.56,139.43 L199.12,140.99 L199.68,142.54 L200.25,142.22 L200.81,140.82 L201.38,139.49 L201.94,139.00 L202.50,138.53 L203.07,138.47 L203.63,138.16 L204.19,139.45 L204.76,138.42 L205.32,137.40 L205.88,139.50 L206.45,139.48 L207.01,139.27 L207.57,139.08 L208.14,138.65 L208.70,138.75 L209.27,139.55 L209.83,137.61 L210.39,136.57 L210.96,137.72 L211.52,138.58 L212.08,139.67 L212.65,140.53 L213.21,141.90 L213.77,140.96 L214.34,143.06 L214.90,142.33 L215.47,143.37 L216.03,142.55 L216.59,142.17 L217.16,142.29 L217.72,141.29 L218.28,142.13 L218.85,141.96 L219.41,141.40 L219.97,140.87 L220.54,140.61 L221.10,140.64 L221.66,140.75 L222.23,140.75 L222.79,142.64 L223.36,140.32 L223.92,140.25 L224.48,140.34 L225.05,141.75 L225.61,143.35 L226.17,143.72 L226.74,142.53 L227.30,144.24 L227.86,142.34 L228.43,143.80 L228.99,142.21 L229.56,144.93 L230.12,145.89 L230.68,145.72 L231.25,145.92 L231.81,145.57 L232.37,145.38 L232.94,143.73 L233.50,144.35 L234.06,142.72 L234.63,144.54 L235.19,144.47 L235.75,145.40 L236.32,146.24 L236.88,147.72 L237.45,149.17 L238.01,148.66 L238.57,146.88 L239.14,147.47 L239.70,144.62 L240.26,143.44 L240.83,143.61 L241.39,142.63 L241.95,143.44 L242.52,144.56 L243.08,147.25 L243.65,144.03 L244.21,143.85 L244.77,143.29 L245.34,142.34 L245.90,142.93 L246.46,144.52 L247.03,143.20 L247.59,145.21 L248.15,145.17 L248.72,145.90 L249.28,144.76 L249.84,144.86 L250.41,144.87 L250.97,147.57 L251.54,147.88 L252.10,148.35 L252.66,146.92 L253.23,147.50 L253.79,146.29 L254.35,144.88 L254.92,145.58 L255.48,147.55 L256.04,148.20 L256.61,148.53 L257.17,149.70 L257.74,149.62 L258.30,150.68 L258.86,150.23 L259.43,150.18 L259.99,149.29 L260.55,148.80 L261.12,148.70 L261.68,148.32 L262.24,150.48 L262.81,149.19 L263.37,149.12 L263.93,150.56 L264.50,150.05 L265.06,147.99 L265.63,149.83 L266.19,150.10 L266.75,150.58 L267.32,149.74 L267.88,148.92 L268.44,147.05 L269.01,146.90 L269.57,147.49 L270.13,147.41 L270.70,146.00 L271.26,146.22 L271.83,146.19 L272.39,147.40 L272.95,148.46 L273.52,148.85 L274.08,148.77 L274.64,151.04 L275.21,151.71 L275.77,150.84 L276.33,152.01 L276.90,150.58 L277.46,149.75 L278.02,148.63 L278.59,146.70 L279.15,147.84 L279.72,148.98 L280.28,148.36 L280.84,151.45 L281.41,152.64 L281.97,153.54 L282.53,154.70 L283.10,153.85 L283.66,153.13 L284.22,153.02 L284.79,152.95 L285.35,153.74 L285.92,153.71 L286.48,154.08 L287.04,151.36 L287.61,153.91 L288.17,153.19 L288.73,150.76 L289.30,150.71 L289.86,150.00 L290.42,149.28 L290.99,148.88 L291.55,149.39 L292.11,149.32 L292.68,150.53 L293.24,150.83 L293.81,151.54 L294.37,151.09 L294.93,152.19 L295.50,152.63 L296.06,153.47 L296.62,152.08 L297.19,152.63 L297.75,152.49 L298.31,151.63 L298.88,150.44 L299.44,150.46 L300.01,150.76 L300.57,151.59 L301.13,152.32 L301.70,151.14 L302.26,150.65 L302.82,151.14 L303.39,150.74 L303.95,149.63 L304.51,149.61 L305.08,150.40 L305.64,151.30 L306.20,150.22 L306.77,150.67 L307.33,152.12 L307.90,150.77 L308.46,151.36 L309.02,151.14 L309.59,150.39 L310.15,149.31 L310.71,149.74 L311.28,149.24 L311.84,149.45 L312.40,148.27 L312.97,150.18 L313.53,148.96 L314.10,150.94 L314.66,151.94 L315.22,153.35 L315.79,152.31 L316.35,153.31 L316.91,152.61 L317.48,153.72 L318.04,153.96 L318.60,151.65 L319.17,151.59 L319.73,149.86 L320.29,150.88 L320.86,151.19 L321.42,150.44 L321.99,149.70 L322.55,150.99 L323.11,152.20 L323.68,152.85 L324.24,153.34 L324.80,152.06 L325.37,153.09 L325.93,154.24 L326.49,151.82 L327.06,153.16 L327.62,153.32 L328.19,152.78 L328.75,153.34 L329.31,152.54 L329.88,152.16 L330.44,152.81 L331.00,152.22 L331.57,151.82 L332.13,151.86 L332.69,150.80 L333.26,150.78 L333.82,150.68 L334.38,150.08 L334.95,151.20 L335.51,149.87 L336.08,149.79 L336.64,149.84 L337.20,149.80 L337.77,151.55 L338.33,150.77 L338.89,149.74 L339.46,150.02 L340.02,150.24 L340.58,149.90 L341.15,150.94 L341.71,149.01 L342.28,149.96 L342.84,149.41 L343.40,148.12 L343.97,149.04 L344.53,149.63 L345.09,150.78 L345.66,150.76 L346.22,152.03 L346.78,150.85 L347.35,151.53 L347.91,153.16 L348.47,153.59 L349.04,153.04 L349.60,152.65 L350.17,153.61 L350.73,150.94 L351.29,151.62 L351.86,152.43 L352.42,152.78 L352.98,151.95 L353.55,151.74 L354.11,154.67 L354.67,153.78 L355.24,152.73 L355.80,153.17 L356.37,153.53 L356.93,150.66 L357.49,153.57 L358.06,153.43 L358.62,151.45 L359.18,153.73 L359.75,151.72 L360.31,153.68 L360.87,152.90 L361.44,154.06 L362.00,151.69 L362.56,151.92 L363.13,152.51 L363.69,151.07 L364.26,150.83 L364.82,150.90 L365.38,150.94 L365.95,150.00 L366.51,151.16 L367.07,151.48 L367.64,151.40 L368.20,152.89 L368.76,151.64 L369.33,152.68 L369.89,151.07 L370.46,151.83 L371.02,149.59 L371.58,150.97 L372.15,150.45 L372.71,149.96 L373.27,149.61 L373.84,149.55 L374.40,149.01 L374.96,148.21 L375.53,149.85 L376.09,150.32 L376.65,150.78 L377.22,150.81 L377.78,151.80 L378.35,152.49 L378.91,151.71 L379.47,151.53 L380.04,152.92 L380.60,152.63 L381.16,152.59 L381.73,153.19 L382.29,152.65 L382.85,153.36 L383.42,154.85 L383.98,154.17 L384.55,154.98 L385.11,154.92 L385.67,154.49 L386.24,153.57 L386.80,154.09 L387.36,153.31 L387.93,154.38 L388.49,155.02 L389.05,154.88 L389.62,154.50 L390.18,152.66 L390.74,152.11 L391.31,152.21 L391.87,153.02 L392.44,153.87 L393.00,151.91 L393.56,153.05 L394.13,151.50 L394.69,150.91 L395.25,150.56 L395.82,150.61 L396.38,149.69 L396.94,150.63 L397.51,149.23 L398.07,150.85 L398.64,151.10 L399.20,150.67 L399.76,150.77 L400.33,149.53 L400.89,148.68 L401.45,148.74 L402.02,148.11 L402.58,150.58 L403.14,149.53 L403.71,152.62 L404.27,153.01 L404.83,153.97 L405.40,155.00 L405.96,154.55 L406.53,156.52 L407.09,156.25 L407.65,153.84 L408.22,154.43 L408.78,153.41 L409.34,152.34 L409.91,152.89 L410.47,151.17 L411.03,151.65 L411.60,151.61 L412.16,150.16 L412.73,151.68 L413.29,149.91 L413.85,150.23 L414.42,151.81 L414.98,150.81 L415.54,151.75 L416.11,150.40 L416.67,151.32 L417.23,150.05 L417.80,150.80 L418.36,149.02 L418.92,150.14 L419.49,149.43 L420.05,150.51 L420.62,151.24 L421.18,152.22 L421.74,151.96 L422.31,151.86 L422.87,154.64 L423.43,153.99 L424.00,153.36 L424.56,153.02 L425.12,150.22 L425.69,150.15 L426.25,150.58 L426.82,150.59 L427.38,151.97 L427.94,151.97 L428.51,151.80 L429.07,151.80 L429.63,153.02 L430.20,151.79 L430.76,152.60 L431.32,152.37 L431.89,150.48 L432.45,150.58 L433.01,150.87 L433.58,150.61 L434.14,150.42 L434.71,150.26 L435.27,150.87 L435.83,150.25 L436.40,150.81 L436.96,151.99 L437.52,151.52 L438.09,152.69 L438.65,150.71 L439.21,152.39 L439.78,151.77 L440.34,150.42 L440.91,152.44 L441.47,151.40 L442.03,150.65 L442.60,149.30 L443.16,150.08 L443.72,151.89 L444.29,150.46 L444.85,148.80 L445.41,151.09 L445.98,150.95 L446.54,151.64 L447.10,151.34 L447.67,150.85 L448.23,150.79 L448.80,152.11 L449.36,150.51 L449.92,153.41 L450.49,151.88 L451.05,152.09 L451.61,154.12 L452.18,154.57 L452.74,153.83 L453.30,155.45 L453.87,153.78 L454.43,154.73 L455.00,156.54 L455.56,155.17 L456.12,154.04 L456.69,155.05 L457.25,155.01 L457.81,153.96 L458.38,152.13 L458.94,152.59 L459.50,152.52 L460.07,152.15 L460.63,152.33 L461.19,150.11 L461.76,149.30 L462.32,150.16 L462.89,152.01 L463.45,151.32 L464.01,153.58 L464.58,150.54 L465.14,153.20 L465.70,152.09 L466.27,152.94 L466.83,153.12 L467.39,152.02 L467.96,153.18 L468.52,153.77 L469.09,154.38 L469.65,153.59 L470.21,153.82 L470.78,153.30 L471.34,156.83 L471.90,154.95 L472.47,154.37 L473.03,152.85 L473.59,154.10 L474.16,152.44 L474.72,153.75 L475.28,153.45 L475.85,152.96 L476.41,153.63 L476.98,152.29 L477.54,152.34 L478.10,151.60 L478.67,150.54 L479.23,150.96 L479.79,150.29 L480.36,151.24 L480.92,147.78 L481.48,149.93 L482.05,149.88 L482.61,150.34 L483.18,150.21 L483.74,149.40 L484.30,148.32 L484.87,147.32 L485.43,148.67 L485.99,149.19 L486.56,148.16 L487.12,149.97 L487.68,149.73 L488.25,150.31 L488.81,151.73 L489.37,152.09 L489.94,152.56 L490.50,151.73 L491.07,151.95 L491.63,151.12 L492.19,151.80 L492.76,151.90 L493.32,152.99 L493.88,152.92 L494.45,151.66 L495.01,152.21 L495.57,151.22 L496.14,151.36 L496.70,151.81 L497.27,150.06 L497.83,147.08 L498.39,147.37 L498.96,147.69 L499.52,149.40 L500.08,149.36 L500.65,149.92 L501.21,151.38 L501.77,149.16 L502.34,148.75 L502.90,150.48 L503.46,149.39 L504.03,149.24 L504.59,149.00 L505.16,150.08 L505.72,150.08 L506.28,152.42 L506.85,152.86 L507.41,154.03 L507.97,153.64 L508.54,153.69 L509.10,153.54 L509.66,154.40 L510.23,150.52 L510.79,150.85 L511.36,149.61 L511.92,150.46 L512.48,150.24 L513.05,151.45 L513.61,152.23 L514.17,151.52 L514.74,150.72 L515.30,150.36 L515.86,149.21 L516.43,149.22 L516.99,148.58 L517.55,148.90 L518.12,149.69 L518.68,149.61 L519.25,148.24 L519.81,148.97 L520.37,149.30 L520.94,150.52 L521.50,150.83 L522.06,151.89 L522.63,151.01 L523.19,150.06 L523.75,150.59 L524.32,150.53 L524.88,150.20 L525.45,150.18 L526.01,150.20 L526.40,150.10" stroke="#2ca02c"/>
</g>
<rect x="53.50" y="15.50" width="496.00" height="370.00" fill="none" stroke="#000" stroke-width="1.1"/>
<g stroke="#000" stroke-width="1.1">
<path d="M75.50,385.50 v4.9"/>
<path d="M131.50,385.50 v4.9"/>
<path d="M188.50,385.50 v4.9"/>
<path d="M244.50,385.50 v4.9"/>
<path d="M301.50,385.50 v4.9"/>
<path d="M357.50,385.50 v4.9"/>
<path d="M414.50,385.50 v4.9"/>
<path d="M470.50,385.50 v4.9"/>
<path d="M526.50,385.50 v4.9"/>
<path d="M53.50,385.50 h-4.9"/>
<path d="M53.50,344.50 h-4.9"/>
<path d="M53.50,303.50 h-4.9"/>
<path d="M53.50,262.50 h-4.9"/>
<path d="M53.50,220.50 h-4.9"/>
<path d="M53.50,179.50 h-4.9"/>
<path d="M53.50,138.50 h-4.9"/>
<path d="M53.50,97.50 h-4.9"/>
<path d="M53.50,56.50 h-4.9"/>
<path d="M53.50,15.50 h-4.9"/>
</g>
<g font-family="'Liberation Sans', sans-serif" font-size="17" fill="#000" style="filter:grayscale(1)">
<text x="75.20" y="406.9" text-anchor="middle" textLength="9.9" lengthAdjust="spacingAndGlyphs">0</text>
<text x="131.20" y="406.9" text-anchor="middle" textLength="28.6" lengthAdjust="spacingAndGlyphs">100</text>
<text x="188.20" y="406.9" text-anchor="middle" textLength="28.6" lengthAdjust="spacingAndGlyphs">200</text>
<text x="244.20" y="406.9" text-anchor="middle" textLength="28.6" lengthAdjust="spacingAndGlyphs">300</text>
<text x="301.20" y="406.9" text-anchor="middle" textLength="28.6" lengthAdjust="spacingAndGlyphs">400</text>
<text x="357.20" y="406.9" text-anchor="middle" textLength="28.6" lengthAdjust="spacingAndGlyphs">500</text>
<text x="414.20" y="406.9" text-anchor="middle" textLength="28.6" lengthAdjust="spacingAndGlyphs">600</text>
<text x="470.20" y="406.9" text-anchor="middle" textLength="28.6" lengthAdjust="spacingAndGlyphs">700</text>
<text x="526.20" y="406.9" text-anchor="middle" textLength="28.6" lengthAdjust="spacingAndGlyphs">800</text>
<text x="43.9" y="392.40" text-anchor="end" textLength="9.9" lengthAdjust="spacingAndGlyphs">0</text>
<text x="43.9" y="351.40" text-anchor="end" textLength="9.9" lengthAdjust="spacingAndGlyphs">1</text>
<text x="43.9" y="310.40" text-anchor="end" textLength="9.9" lengthAdjust="spacingAndGlyphs">2</text>
<text x="43.9" y="269.40" text-anchor="end" textLength="9.9" lengthAdjust="spacingAndGlyphs">3</text>
<text x="43.9" y="227.40" text-anchor="end" textLength="9.9" lengthAdjust="spacingAndGlyphs">4</text>
<text x="43.9" y="186.40" text-anchor="end" textLength="9.9" lengthAdjust="spacingAndGlyphs">5</text>
<text x="43.9" y="145.40" text-anchor="end" textLength="9.9" lengthAdjust="spacingAndGlyphs">6</text>
<text x="43.9" y="104.40" text-anchor="end" textLength="9.9" lengthAdjust="spacingAndGlyphs">7</text>
<text x="43.9" y="63.40" text-anchor="end" textLength="9.9" lengthAdjust="spacingAndGlyphs">8</text>
<text x="43.9" y="22.40" text-anchor="end" textLength="9.9" lengthAdjust="spacingAndGlyphs">9</text>
<text font-size="17.6" x="301.6" y="430.0" text-anchor="middle" textLength="88.5" lengthAdjust="spacingAndGlyphs">generation</text>
<text font-size="17.6" transform="translate(23.2,316.90) rotate(-90)" x="0" y="0" textLength="66.5" lengthAdjust="spacingAndGlyphs">average</text>
<text font-size="17.6" transform="translate(23.2,246.00) rotate(-90)" x="0" y="0" textLength="49.2" lengthAdjust="spacingAndGlyphs">mean</text>
<text font-size="17.6" transform="translate(23.2,191.80) rotate(-90)" x="0" y="0" textLength="55.1" lengthAdjust="spacingAndGlyphs">fitness</text>
<text font-size="17.6" transform="translate(23.2,132.50) rotate(-90)" x="0" y="0" textLength="46.9" lengthAdjust="spacingAndGlyphs">value</text>
<text font-size="17.4" x="389.7" y="44.70" textLength="127.7" lengthAdjust="spacingAndGlyphs">BaselineFitness</text>
<text font-size="17.4" x="389.7" y="70.70" textLength="144.7" lengthAdjust="spacingAndGlyphs">IndirectQAFitness</text>
<text font-size="17.4" x="389.7" y="96.80" textLength="131.7" lengthAdjust="spacingAndGlyphs">DirectQAFitness</text>
</g>
<path d="M341,37.90 H376.8" stroke="#1f77b4" stroke-width="2.1" fill="none"/>
<path d="M341,64.90 H376.8" stroke="#ff7f0e" stroke-width="2.1" fill="none"/>
<path d="M341,90.90 H376.8" stroke="#2ca02c" stroke-width="2.1" fill="none"/>
</svg>
</body></html>
